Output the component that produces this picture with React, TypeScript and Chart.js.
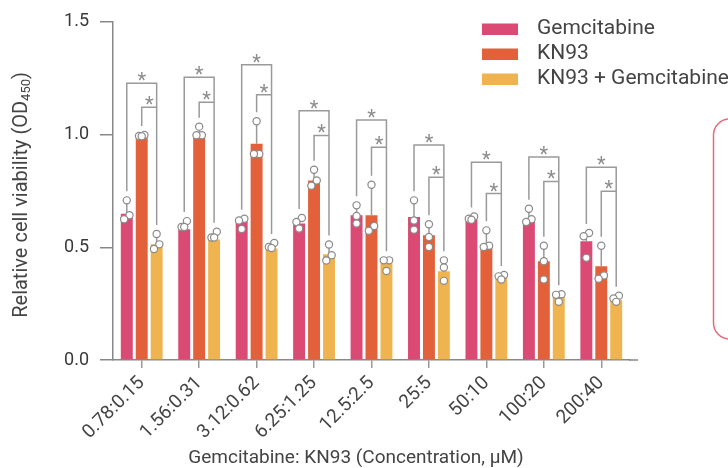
import React, { useEffect, useRef } from 'react';
import { Chart, registerables } from 'chart.js';

Chart.register(...registerables);

const categories = ['0.78:0.15', '1.56:0.31', '3.12:0.62', '6.25:1.25', '12.5:2.5', '25:5', '50:10', '100:20', '200:40'];
const seriesNames = ['Gemcitabine', 'KN93', 'KN93 + Gemcitabine'];
const seriesColors = ['#da4a75', '#e2613a', '#efb44f'];

const gemMeans = [0.649, 0.58, 0.619, 0.605, 0.642, 0.634, 0.627, 0.624, 0.527];
const kn93Means = [1.0, 0.996, 0.959, 0.796, 0.642, 0.553, 0.501, 0.438, 0.416];
const comboMeans = [0.513, 0.535, 0.494, 0.469, 0.442, 0.394, 0.369, 0.28, 0.265];

const gemPoints = [
  [0.708, 0.642, 0.624],
  [0.616, 0.59, 0.59],
  [0.627, 0.619, 0.581],
  [0.63, 0.612, 0.583],
  [0.686, 0.639, 0.605],
  [0.708, 0.619, 0.578],
  [0.637, 0.627, 0.622],
  [0.671, 0.624, 0.612],
  [0.563, 0.549, 0.453],
];
const kn93Points = [
  [0.998, 0.994, 0.992],
  [1.035, 0.997, 0.997],
  [1.059, 0.914, 0.914],
  [0.844, 0.796, 0.773],
  [0.777, 0.594, 0.573],
  [0.602, 0.546, 0.501],
  [0.575, 0.507, 0.501],
  [0.507, 0.438, 0.357],
  [0.507, 0.375, 0.36],
];
const comboPoints = [
  [0.559, 0.513, 0.492],
  [0.569, 0.543, 0.543],
  [0.519, 0.501, 0.497],
  [0.512, 0.465, 0.441],
  [0.442, 0.442, 0.395],
  [0.442, 0.41, 0.351],
  [0.377, 0.371, 0.357],
  [0.292, 0.289, 0.258],
  [0.285, 0.273, 0.258],
];

// significance bracket levels (y-axis units)
const outerBracket = [1.227, 1.254, 1.31, 1.106, 1.065, 0.954, 0.877, 0.9, 0.855];
const innerBracket = [1.121, 1.143, 1.177, 0.996, 0.944, 0.811, 0.738, 0.792, 0.749];

const yTicks = [0, 0.5, 1.0, 1.5];
const xTitle = 'Gemcitabine: KN93 (Concentration, μM)';
const yTitleMain = 'Relative cell viability (OD';
const yTitleSub = '450';

const FONT = 'Roboto, "Noto Sans", sans-serif';
const TEXT = '#444444';
const GRAY = '#9a9a9a';

const overlay = {
  id: 'overlay',
  afterDatasetsDraw(chart: any) {
    const ctx = chart.ctx;
    const ys = chart.scales.y;
    const metas = [0, 1, 2].map((i) => chart.getDatasetMeta(i));
    const pts = [gemPoints, kn93Points, comboPoints];
    const R = 3.6;
    ctx.save();
    // error bars
    ctx.strokeStyle = GRAY;
    ctx.lineWidth = 1.5;
    for (let s = 0; s < 3; s++) {
      for (let i = 0; i < categories.length; i++) {
        const bar = metas[s].data[i];
        const top = ys.getPixelForValue(Math.max(...pts[s][i]));
        ctx.beginPath();
        ctx.moveTo(bar.x, bar.y);
        ctx.lineTo(bar.x, top);
        ctx.stroke();
      }
    }
    // brackets
    for (let i = 0; i < categories.length; i++) {
      const xs = metas.map((m: any) => m.data[i].x);
      const tops = pts.map((p) => ys.getPixelForValue(Math.max(...p[i])));
      const oy = ys.getPixelForValue(outerBracket[i]);
      const iy = ys.getPixelForValue(innerBracket[i]);
      ctx.strokeStyle = GRAY;
      ctx.lineWidth = 1.5;
      ctx.beginPath();
      ctx.moveTo(xs[0], tops[0] - 9);
      ctx.lineTo(xs[0], oy);
      ctx.lineTo(xs[2], oy);
      ctx.lineTo(xs[2], tops[2] - 9);
      ctx.moveTo(xs[1], tops[1] - 9);
      ctx.lineTo(xs[1], iy);
      ctx.lineTo(xs[2], iy);
      ctx.stroke();
      ctx.fillStyle = '#8c8c8c';
      ctx.font = `20px ${FONT}`;
      ctx.textAlign = 'center';
      ctx.textBaseline = 'alphabetic';
      ctx.fillText('*', (xs[0] + xs[2]) / 2, oy + 4);
      ctx.fillText('*', (xs[1] + xs[2]) / 2, iy + 4);
    }
    // individual points (simple beeswarm)
    ctx.lineWidth = 1.2;
    ctx.strokeStyle = '#8a8a8a';
    ctx.fillStyle = '#ffffff';
    for (let s = 0; s < 3; s++) {
      for (let i = 0; i < categories.length; i++) {
        const bar = metas[s].data[i];
        const py = pts[s][i].map((v) => ys.getPixelForValue(v)).sort((a, b) => a - b);
        const clusters: number[][] = [];
        py.forEach((p) => {
          const last = clusters[clusters.length - 1];
          if (last && p - last[last.length - 1] < 6.5) last.push(p);
          else clusters.push([p]);
        });
        clusters.forEach((c) => {
          const offs = c.length === 1 ? [0] : c.length === 2 ? [2.7, -2.7] : [2.7, -2.7, 0];
          c.forEach((p, k) => {
            ctx.beginPath();
            ctx.arc(bar.x + offs[k], p, R, 0, Math.PI * 2);
            ctx.fill();
            ctx.stroke();
          });
        });
      }
    }
    ctx.restore();
  },
  afterDraw(chart: any) {
    const ctx = chart.ctx;
    const area = chart.chartArea;
    const ys = chart.scales.y;
    ctx.save();
    // x axis extension
    const y0 = ys.getPixelForValue(0);
    ctx.strokeStyle = '#888888';
    ctx.lineWidth = 1.5;
    ctx.beginPath();
    ctx.moveTo(area.right - 1, y0);
    ctx.lineTo(area.right + 8, y0);
    ctx.stroke();
    // legend
    for (let k = 0; k < 3; k++) {
      ctx.fillStyle = seriesColors[k];
      ctx.fillRect(482, 23.5 + k * 25, 36, 11.5);
      ctx.fillStyle = TEXT;
      ctx.font = `21px ${FONT}`;
      ctx.textAlign = 'left';
      ctx.textBaseline = 'alphabetic';
      ctx.fillText(seriesNames[k], 537, 33.5 + k * 25);
    }
    // x title
    ctx.fillStyle = TEXT;
    ctx.font = `19px ${FONT}`;
    ctx.textAlign = 'center';
    ctx.textBaseline = 'alphabetic';
    ctx.fillText(xTitle, 356, 463);
    // y title with subscript
    ctx.save();
    ctx.translate(27, (area.top + area.bottom) / 2 + 4);
    ctx.rotate(-Math.PI / 2);
    ctx.font = `20px ${FONT}`;
    const w1 = ctx.measureText(yTitleMain).width;
    ctx.font = `13px ${FONT}`;
    const w2 = ctx.measureText(yTitleSub).width;
    ctx.font = `20px ${FONT}`;
    const w3 = ctx.measureText(')').width;
    let x = -(w1 + w2 + w3) / 2;
    ctx.textAlign = 'left';
    ctx.fillText(yTitleMain, x, 0);
    x += w1;
    ctx.font = `13px ${FONT}`;
    ctx.fillText(yTitleSub, x, 3);
    x += w2;
    ctx.font = `20px ${FONT}`;
    ctx.fillText(')', x, 0);
    ctx.restore();
    // red rounded box at right edge
    ctx.strokeStyle = '#e56b7c';
    ctx.lineWidth = 1.5;
    ctx.beginPath();
    ctx.roundRect(713.5, 119, 60, 220, 16);
    ctx.stroke();
    ctx.restore();
  },
};

export default function App() {
  const ref = useRef<HTMLCanvasElement | null>(null);
  useEffect(() => {
    if (!ref.current) return;
    const chart = new Chart(ref.current, {
      type: 'bar',
      data: {
        labels: categories,
        datasets: [gemMeans, kn93Means, comboMeans].map((d, k) => ({
          label: seriesNames[k],
          data: d,
          backgroundColor: seriesColors[k],
          borderWidth: 0,
          categoryPercentage: 0.78,
          barPercentage: 0.8,
        })),
      },
      options: {
        responsive: false,
        animation: false,
        devicePixelRatio: 1,
        layout: { padding: { top: 21, right: 98, bottom: 0, left: 0 } },
        plugins: { legend: { display: false }, tooltip: { enabled: false }, title: { display: false } },
        scales: {
          x: {
            grid: { display: true, drawOnChartArea: false, offset: false, tickLength: 8, color: '#999999', lineWidth: 1.5 },
            border: { display: true, color: '#888888', width: 1.5 },
            ticks: {
              autoSkip: false,
              maxRotation: 45,
              minRotation: 45,
              color: TEXT,
              font: { family: FONT, size: 19 },
              padding: 4,
            },
            afterFit: (scale: any) => {
              scale.height = 108;
            },
          },
          y: {
            min: 0,
            max: 1.5,
            afterBuildTicks: (scale: any) => {
              scale.ticks = yTicks.map((v) => ({ value: v }));
            },
            grid: { display: true, drawOnChartArea: false, tickLength: 13, color: '#888888', lineWidth: 1.5 },
            border: { display: true, color: '#888888', width: 1.5 },
            ticks: {
              color: '#3a3a3a',
              font: { family: FONT, size: 18 },
              padding: 11,
              callback: (v: any) => Number(v).toFixed(1),
            },
            afterFit: (scale: any) => {
              scale.width = 113;
            },
          },
        },
      },
      plugins: [overlay],
    });
    return () => chart.destroy();
  }, []);
  return (
    <div style={{ position: 'absolute', left: 0, top: 0, width: 728, height: 468, overflow: 'hidden', background: '#fff' }}>
      <canvas ref={ref} width={728} height={468} style={{ width: 728, height: 468 }} />
    </div>
  );
}
